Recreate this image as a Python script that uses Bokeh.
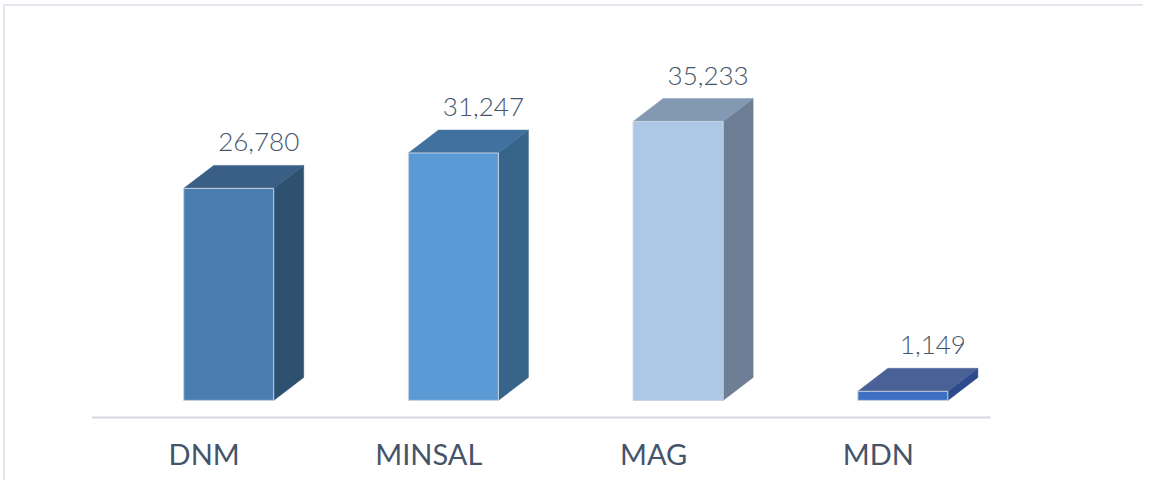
from bokeh.plotting import figure
from bokeh.models import Range1d, FixedTicker, ColumnDataSource
from bokeh.core.properties import value
from bokeh.embed import file_html
from bokeh.resources import INLINE

# ---- data ----
categories = ["DNM", "MINSAL", "MAG", "MDN"]
values = [26780, 31247, 35233, 1149]
value_labels = ["26,780", "31,247", "35,233", "1,149"]

# ---- styles ----
front_colors = ["#4a7eb0", "#5b9bd5", "#adc7e7", "#3d6fc4"]
top_colors = ["#3a5f86", "#41729f", "#8399b3", "#4a6198"]
side_colors = ["#2f5170", "#37658a", "#6d7e95", "#2d4b8c"]

OFF = -0.091      # front face left edge relative to category position
W = 0.4005        # front face width (x units)
DX = 0.1335       # depth x (x units)
DY = 2900         # depth y (y units)
LABEL_GAP = 2900  # gap between back top edge and value label
BASE_Y = -2150    # floor line

xs = list(range(len(categories)))

fx, fy, tx, ty, sx, sy = [], [], [], [], [], []
for i, v in zip(xs, values):
    x0 = i + OFF
    x1 = x0 + W
    fx.append([x0, x1, x1, x0]); fy.append([0, 0, v, v])
    tx.append([x0, x1, x1 + DX, x0 + DX]); ty.append([v, v, v + DY, v + DY])
    sx.append([x1, x1 + DX, x1 + DX, x1]); sy.append([0, DY, v + DY, v])

p = figure(width=1140, height=476,
           x_range=Range1d(-0.884, 4.189), y_range=Range1d(-3047, 49753),
           output_backend="svg", toolbar_location=None,
           y_axis_location=None,
           min_border_left=0, min_border_right=0, min_border_top=0,
           min_border_bottom=58)
p.styles = {"border-left": "2px solid #e4e8ee", "border-top": "2px solid #e4e8ee",
            "margin-left": "3px", "margin-top": "4px"}
p.outline_line_color = None
p.xgrid.visible = False
p.ygrid.visible = False
p.background_fill_color = "white"
p.border_fill_color = "white"

# floor line
p.segment(x0=[-0.5], y0=[BASE_Y], x1=[3.5], y1=[BASE_Y],
          line_color="#d5d8dd", line_width=2)

p.patches(xs=sx, ys=sy, fill_color=side_colors, line_color=side_colors, line_width=0.5)
p.patches(xs=tx, ys=ty, fill_color=top_colors, line_color=top_colors, line_width=0.5)
p.patches(xs=fx, ys=fy, fill_color=front_colors, line_color="#c9d2dd", line_width=1)

lab = ColumnDataSource(dict(
    x=[i + OFF + W / 2 + DX for i in xs],
    y=[v + DY + LABEL_GAP for v in values],
    t=value_labels))
p.text(x="x", y="y", text="t", source=lab, text_align="center",
       text_baseline="alphabetic", text_font=value("Lato Light"),
       text_font_size="26px", text_color="#44546a")

ax = p.xaxis[0]
ax.ticker = FixedTicker(ticks=xs)
ax.major_label_overrides = {i: c for i, c in zip(xs, categories)}
ax.axis_line_color = None
ax.major_tick_line_color = None
ax.minor_tick_line_color = None
ax.major_tick_out = 0
ax.major_label_standoff = 11
ax.major_label_text_font = "Lato"
ax.major_label_text_font_size = "29px"
ax.major_label_text_color = "#44546a"

open("out.html", "w").write(file_html(p, INLINE))
